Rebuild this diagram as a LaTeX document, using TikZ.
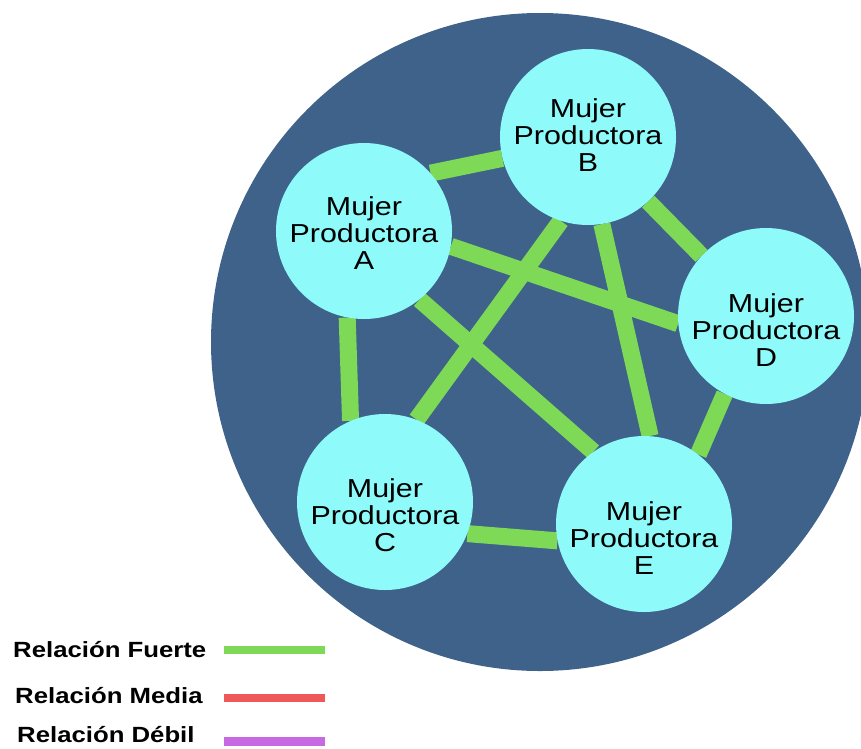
\documentclass[tikz,border=0pt]{standalone}
\usepackage{fontspec}
\usepackage{tikz}
\usetikzlibrary{backgrounds}
\newfontfamily\nodefont[FakeStretch=1.17]{Liberation Sans}
\definecolor{fondo}{RGB}{62,98,138}
\definecolor{celeste}{RGB}{142,250,250}
\definecolor{verde}{RGB}{126,217,87}
\definecolor{rojo}{RGB}{238,88,88}
\definecolor{morado}{RGB}{200,105,228}
\tikzset{%
	mujer/.style   = {circle, fill=celeste, minimum size=176pt, inner sep=0pt},
	nombre/.style  = {font=\nodefont\fontsize{26}{27}\selectfont, align=center, text=black, inner sep=0pt},
	fuerte/.style  = {line width=17pt, draw=verde},
	leyenda/.style = {font=\nodefont\bfseries\fontsize{22}{26}\selectfont, anchor=base west, inner sep=0pt},
	muestra/.style = {line width=8.5pt},
}

\begin{document}
\begin{tikzpicture}[x=1pt,y=-1pt]
	\useasboundingbox (0,0) rectangle (861,748);
	
	% mujeres productoras
	\node[mujer] (A) at (364,231) {};
	\node[mujer] (B) at (588,137) {};
	\node[mujer] (C) at (385,502) {};
	\node[mujer] (D) at (766,316) {};
	\node[mujer] (E) at (644,524) {};
	
	\node[nombre] (tA) at (364,233) {Mujer\\Productora\\A};
	\node[nombre] (tB) at (588,135) {Mujer\\Productora\\B};
	\node[nombre] (tC) at (385,515) {Mujer\\Productora\\C};
	\node[nombre] (tD) at (766,330) {Mujer\\Productora\\D};
	\node[nombre] (tE) at (644,538) {Mujer\\Productora\\E};
	
	% relaciones
	\begin{scope}[on background layer]
		\fill[fondo] (540,342) circle (329pt);
		\draw[fuerte] (A.41) -- (B.194);
		\draw[fuerte] (A.-10) -- (D.185);
		\draw[fuerte] (A.-51) -- (E.125);
		\draw[fuerte] (A.-101) -- (C.113);
		\draw[fuerte] (B.-108) -- (C.69);
		\draw[fuerte] (B.-81) -- (E.86);
		\draw[fuerte] (B.-47) -- (D.137);
		\draw[fuerte] (D.-118) -- (E.52);
		\draw[fuerte] (C.-21) -- (E.191);
	\end{scope}
	
	% leyenda
	\node[leyenda] (lF) at (13,657) {Relación Fuerte};
	\node[leyenda] (lM) at (15,703) {Relación Media};
	\node[leyenda] (lD) at (17,742) {Relación Débil};
	
	\coordinate (f1) at (224,650);   \coordinate (f2) at (325,650);
	\coordinate (m1) at (224,698);   \coordinate (m2) at (325,698);
	\coordinate (d1) at (224,741.5); \coordinate (d2) at (325,741.5);
	\draw[muestra,verde] (f1) -- (f2);
	\draw[muestra,rojo] (m1) -- (m2);
	\draw[muestra,morado] (d1) -- (d2);
\end{tikzpicture}
\end{document}
